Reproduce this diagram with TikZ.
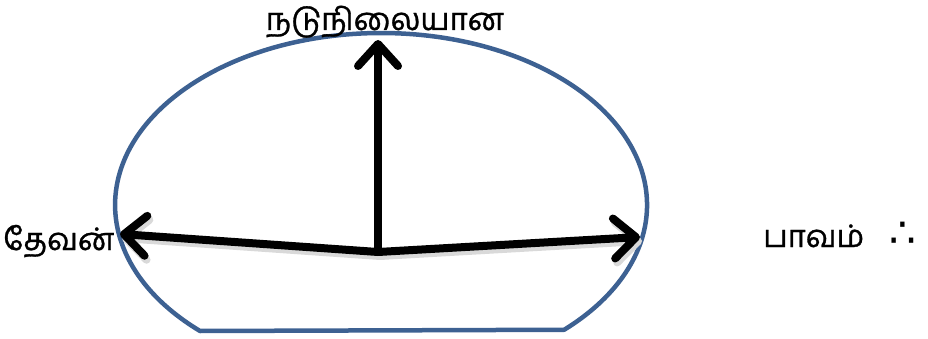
\documentclass[tikz,border=0pt]{standalone}
\usepackage{fontspec}
\newfontfamily\tamilfont[Script=Tamil,FakeBold=1]{Hind Madurai}
\newfontfamily\symfont{DejaVu Sans}
\usetikzlibrary{arrows.meta}
\definecolor{ellblue}{HTML}{3D6192}
\begin{document}
\begin{tikzpicture}[x=1pt,y=-1pt,
  lbl/.style={inner sep=0pt, font=\tamilfont\fontsize{31}{36}\selectfont},
  arr/.style={line width=8pt, line cap=round, line join=round,
    -{Straight Barb[round, length=22pt, width=40pt]}},
  shad/.style={arr, draw=black!15}]
\useasboundingbox (0,0) rectangle (928,339);
% outline
\coordinate (bl) at (200,331);
\coordinate (br) at (564,330);
\draw[ellblue, line width=4.5pt, line join=round] (bl)
  arc[start angle=132.9, end angle=406.5, x radius=266, y radius=172] -- (bl) -- cycle;
% arrows
\coordinate (o) at (378,252);
\coordinate (o2) at (380,256);
\coordinate (up) at (378,40);
\coordinate (lf) at (120,234);
\coordinate (rt) at (640,237);
\coordinate (lf2) at (122,238);
\coordinate (rt2) at (642,241);
\draw[shad] (o2) -- (lf2);
\draw[shad] (o2) -- (rt2);
\draw[arr] (o) -- (up);
\draw[arr] (o) -- (lf);
\draw[arr] (o) -- (rt);
% labels
\node[lbl, anchor=base] (top) at (385,30) {நடுநிலையான};
\node[lbl, anchor=base west] (left) at (3,250) {தேவன்};
\node[lbl, anchor=base west] (right) at (763,247) {பாவம்};
\node[inner sep=0pt, anchor=base west, font=\symfont\fontsize{42}{48}\selectfont] (therefore) at (889,247) {∴};
\end{tikzpicture}
\end{document}
